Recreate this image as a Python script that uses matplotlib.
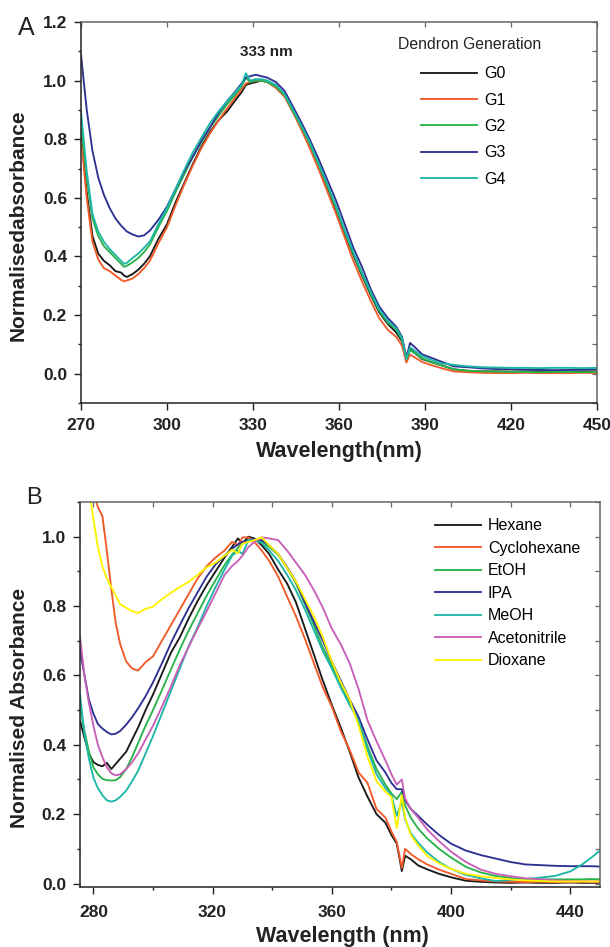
import matplotlib
matplotlib.use("Agg")
import matplotlib.pyplot as plt
from matplotlib.ticker import MultipleLocator

plt.rcParams['font.family'] = ['Liberation Sans', 'DejaVu Sans']

# ---------------- Panel A data ----------------
wl_A = [270, 272, 274, 276, 278, 280, 282, 284, 285, 286, 288, 290, 292, 294, 297, 300,
        303, 306, 309, 312, 315, 318, 321, 324, 326, 327.5, 329, 331, 333, 335, 338, 341,
        344, 347, 350, 353, 356, 359, 362, 365, 368, 371, 374, 377, 380, 382, 383.5, 384.8,
        386.5, 389, 392, 396, 400, 405, 410, 415, 420, 425, 430, 435, 440, 445, 450]

G0 = [0.83, 0.62, 0.47, 0.41, 0.385, 0.37, 0.35, 0.345, 0.335, 0.33, 0.34, 0.355, 0.375, 0.40, 0.46, 0.51,
      0.585, 0.65, 0.715, 0.775, 0.825, 0.865, 0.895, 0.935, 0.96, 0.985, 0.99, 0.995, 1.0, 0.995, 0.98, 0.95,
      0.895, 0.84, 0.78, 0.71, 0.635, 0.56, 0.48, 0.405, 0.335, 0.27, 0.21, 0.17, 0.14, 0.11, 0.05, 0.085,
      0.07, 0.05, 0.04, 0.028, 0.015, 0.01, 0.008, 0.008, 0.007, 0.008, 0.008, 0.007, 0.008, 0.008, 0.008]
G1 = [0.81, 0.60, 0.45, 0.39, 0.36, 0.35, 0.335, 0.32, 0.315, 0.318, 0.325, 0.34, 0.36, 0.385, 0.445, 0.50,
      0.575, 0.645, 0.71, 0.77, 0.82, 0.865, 0.905, 0.945, 0.97, 0.99, 0.995, 1.0, 1.0, 0.995, 0.975, 0.945,
      0.89, 0.83, 0.765, 0.695, 0.62, 0.545, 0.465, 0.385, 0.315, 0.25, 0.19, 0.15, 0.125, 0.095, 0.038, 0.065,
      0.055, 0.04, 0.03, 0.018, 0.008, 0.005, 0.003, 0.002, 0.002, 0.003, 0.002, 0.002, 0.002, 0.003, 0.002]
G2 = [0.855, 0.67, 0.53, 0.47, 0.435, 0.415, 0.395, 0.375, 0.365, 0.368, 0.38, 0.395, 0.415, 0.44, 0.50, 0.555,
      0.62, 0.68, 0.74, 0.79, 0.84, 0.88, 0.92, 0.955, 0.98, 1.01, 0.995, 1.0, 1.0, 0.995, 0.98, 0.95,
      0.895, 0.84, 0.78, 0.71, 0.64, 0.565, 0.485, 0.41, 0.34, 0.275, 0.215, 0.175, 0.15, 0.115, 0.05, 0.08,
      0.07, 0.052, 0.04, 0.028, 0.015, 0.01, 0.008, 0.007, 0.006, 0.006, 0.005, 0.006, 0.006, 0.005, 0.006]
G3 = [1.088, 0.90, 0.76, 0.67, 0.61, 0.565, 0.53, 0.505, 0.495, 0.485, 0.475, 0.468, 0.472, 0.488, 0.525, 0.57,
      0.63, 0.69, 0.74, 0.795, 0.84, 0.89, 0.93, 0.965, 0.99, 1.01, 1.015, 1.02, 1.015, 1.01, 0.995, 0.965,
      0.91, 0.855, 0.795, 0.73, 0.66, 0.59, 0.51, 0.43, 0.365, 0.29, 0.23, 0.19, 0.16, 0.125, 0.055, 0.105,
      0.09, 0.066, 0.055, 0.04, 0.025, 0.022, 0.018, 0.016, 0.015, 0.014, 0.013, 0.012, 0.013, 0.014, 0.015]
G4 = [0.895, 0.69, 0.545, 0.485, 0.45, 0.425, 0.405, 0.385, 0.375, 0.378, 0.395, 0.41, 0.43, 0.45, 0.51, 0.565,
      0.63, 0.695, 0.755, 0.805, 0.855, 0.895, 0.93, 0.962, 0.985, 1.025, 1.0, 1.005, 1.005, 1.0, 0.985, 0.955,
      0.90, 0.845, 0.785, 0.715, 0.645, 0.57, 0.49, 0.415, 0.345, 0.28, 0.22, 0.18, 0.155, 0.12, 0.05, 0.09,
      0.078, 0.06, 0.048, 0.035, 0.03, 0.025, 0.022, 0.021, 0.02, 0.02, 0.019, 0.02, 0.02, 0.019, 0.02]

labels_A = ['G0', 'G1', 'G2', 'G3', 'G4']
colors_A = ['#1a1a1a', '#f15a29', '#2bb34b', '#2e3192', '#1db5a6']

# ---------------- Panel B data ----------------
wl_B = [275.5, 277, 278.5, 280, 281.5, 283, 284.5, 286, 287.5, 289, 291, 293, 295, 297.5, 300, 303,
        306, 309, 312, 315, 318, 321, 324, 326.5, 328.5, 330, 332, 334, 336.5, 339, 342, 345,
        348, 351, 354, 357, 360, 363, 366, 369, 372, 375, 378, 380, 381.8, 383.5, 384.6, 386.5,
        389, 392, 396, 400, 405, 410, 415, 420, 425, 430, 435, 440, 444, 447, 450]

hexane = [0.47, 0.42, 0.375, 0.35, 0.342, 0.338, 0.348, 0.33, 0.345, 0.36, 0.38, 0.415, 0.45, 0.50, 0.545, 0.605,
          0.665, 0.71, 0.765, 0.815, 0.86, 0.90, 0.94, 0.97, 0.995, 0.98, 1.0, 0.995, 0.975, 0.95, 0.905, 0.865,
          0.81, 0.735, 0.66, 0.585, 0.515, 0.45, 0.38, 0.305, 0.25, 0.20, 0.175, 0.14, 0.115, 0.036, 0.08, 0.07,
          0.052, 0.041, 0.028, 0.018, 0.008, 0.005, 0.003, 0.002, 0.003, 0.002, 0.002, 0.003, 0.002, 0.002, 0.002]
cyclohexane = [1.5, 1.35, 1.22, 1.13, 1.085, 1.06, 0.96, 0.85, 0.75, 0.69, 0.64, 0.62, 0.614, 0.638, 0.655, 0.70,
               0.745, 0.79, 0.835, 0.88, 0.915, 0.94, 0.96, 0.985, 0.975, 0.998, 0.998, 0.985, 0.96, 0.93, 0.885, 0.827,
               0.77, 0.705, 0.635, 0.565, 0.51, 0.44, 0.385, 0.32, 0.29, 0.215, 0.19, 0.15, 0.12, 0.045, 0.10, 0.085,
               0.07, 0.055, 0.04, 0.028, 0.013, 0.009, 0.006, 0.005, 0.004, 0.005, 0.004, 0.004, 0.005, 0.004, 0.004]
etoh = [0.51, 0.44, 0.38, 0.335, 0.315, 0.302, 0.298, 0.297, 0.298, 0.307, 0.33, 0.365, 0.405, 0.455, 0.50, 0.558,
        0.617, 0.675, 0.73, 0.78, 0.83, 0.875, 0.918, 0.948, 0.968, 0.98, 0.99, 0.99, 0.985, 0.97, 0.948, 0.91,
        0.865, 0.805, 0.745, 0.68, 0.63, 0.575, 0.52, 0.47, 0.395, 0.33, 0.285, 0.26, 0.243, 0.265, 0.225, 0.19,
        0.158, 0.13, 0.10, 0.075, 0.048, 0.032, 0.022, 0.016, 0.013, 0.012, 0.012, 0.012, 0.012, 0.013, 0.012]
ipa = [0.674, 0.60, 0.53, 0.49, 0.46, 0.447, 0.437, 0.43, 0.432, 0.44, 0.458, 0.48, 0.505, 0.54, 0.58, 0.635,
       0.693, 0.745, 0.795, 0.84, 0.885, 0.92, 0.945, 0.965, 0.978, 0.985, 0.99, 0.993, 0.99, 0.975, 0.95, 0.912,
       0.87, 0.81, 0.755, 0.70, 0.64, 0.585, 0.53, 0.48, 0.415, 0.355, 0.32, 0.29, 0.272, 0.272, 0.24, 0.215,
       0.195, 0.17, 0.14, 0.115, 0.095, 0.082, 0.072, 0.062, 0.055, 0.053, 0.051, 0.05, 0.05, 0.05, 0.049]
meoh = [0.545, 0.43, 0.36, 0.305, 0.275, 0.255, 0.24, 0.236, 0.24, 0.25, 0.268, 0.295, 0.325, 0.375, 0.425, 0.49,
        0.555, 0.62, 0.685, 0.74, 0.80, 0.855, 0.905, 0.945, 0.96, 0.95, 0.99, 0.99, 0.982, 0.96, 0.93, 0.89,
        0.845, 0.79, 0.73, 0.67, 0.62, 0.565, 0.515, 0.47, 0.385, 0.315, 0.275, 0.255, 0.195, 0.235, 0.185, 0.145,
        0.117, 0.09, 0.062, 0.042, 0.025, 0.015, 0.007, 0.01, 0.013, 0.017, 0.022, 0.035, 0.055, 0.074, 0.095]
acetonitrile = [0.712, 0.60, 0.52, 0.455, 0.40, 0.365, 0.335, 0.318, 0.312, 0.315, 0.33, 0.35, 0.375, 0.415, 0.455, 0.51,
                0.568, 0.63, 0.683, 0.735, 0.785, 0.837, 0.89, 0.915, 0.93, 0.945, 0.97, 0.985, 0.998, 0.995, 0.99, 0.96,
                0.925, 0.89, 0.846, 0.795, 0.735, 0.69, 0.635, 0.56, 0.47, 0.41, 0.355, 0.315, 0.285, 0.30, 0.245, 0.215,
                0.19, 0.156, 0.122, 0.092, 0.062, 0.04, 0.028, 0.021, 0.015, 0.012, 0.009, 0.007, 0.007, 0.006, 0.007]
dioxane = [1.4, 1.25, 1.14, 1.05, 0.97, 0.915, 0.88, 0.855, 0.83, 0.805, 0.795, 0.785, 0.78, 0.792, 0.798, 0.82,
           0.838, 0.855, 0.87, 0.89, 0.912, 0.925, 0.945, 0.962, 0.952, 0.98, 0.985, 0.99, 0.998, 0.975, 0.95, 0.91,
           0.87, 0.82, 0.77, 0.71, 0.64, 0.58, 0.53, 0.455, 0.365, 0.295, 0.265, 0.25, 0.16, 0.255, 0.19, 0.14,
           0.11, 0.08, 0.058, 0.042, 0.028, 0.021, 0.016, 0.012, 0.009, 0.007, 0.006, 0.006, 0.006, 0.006, 0.006]

labels_B = ['Hexane', 'Cyclohexane', 'EtOH', 'IPA', 'MeOH', 'Acetonitrile', 'Dioxane']
colors_B = ['#1a1a1a', '#f15a29', '#2bb34b', '#2e3192', '#1db5a6', '#c85fb8', '#fff200']

x_ticks_A = [270, 300, 330, 360, 390, 420, 450]
y_ticks_A = [0.0, 0.2, 0.4, 0.6, 0.8, 1.0, 1.2]
x_ticks_B = [280, 320, 360, 400, 440]
y_ticks_B = [0.0, 0.2, 0.4, 0.6, 0.8, 1.0]

# ---------------- Figure ----------------
fig = plt.figure(figsize=(6.10, 9.47), dpi=100)
W, H = 610, 947
axA = fig.add_axes([81 / W, 1 - 403 / H, 516 / W, 381 / H])
axB = fig.add_axes([80 / W, 1 - 887 / H, 520 / W, 385 / H])

LW = 1.35


def style(ax, xminor, yminor, mlen, mnlen, xpad):
    for s in ['left', 'bottom']:
        ax.spines[s].set_color('#222222')
        ax.spines[s].set_linewidth(1.1)
    for s in ['top', 'right']:
        ax.spines[s].set_color('#666666')
        ax.spines[s].set_linewidth(1.1)
    ax.tick_params(which='major', direction='out', length=mlen, width=1.0,
                   labelsize=12.5, pad=5, color='#222222')
    ax.tick_params(axis='x', which='major', pad=xpad)
    ax.tick_params(which='minor', direction='out', length=mnlen, width=1.0, color='#222222')
    for lab in ax.get_xticklabels() + ax.get_yticklabels():
        lab.set_fontweight('bold')
        lab.set_color('#222222')
    if xminor:
        ax.xaxis.set_minor_locator(MultipleLocator(xminor))
    if yminor:
        ax.yaxis.set_minor_locator(MultipleLocator(yminor))
    # inward ticks on top / right
    top = ax.secondary_xaxis('top')
    top.set_xticks(ax.get_xticks())
    top.tick_params(direction='in', length=3.5, width=0.9, labeltop=False, color='#666666')
    if xminor:
        top.xaxis.set_minor_locator(MultipleLocator(xminor))
        top.tick_params(which='minor', direction='in', length=3.5, width=0.9, color='#666666')
    top.spines['top'].set_visible(False)
    right = ax.secondary_yaxis('right')
    right.yaxis.set_major_locator(MultipleLocator(yminor if yminor else 0.2))
    right.tick_params(direction='in', length=3.5, width=0.9, labelright=False, color='#666666')
    right.spines['right'].set_visible(False)


# Panel A
for ys, lab, c in zip([G0, G1, G2, G3, G4], labels_A, colors_A):
    axA.plot(wl_A, ys, color=c, lw=LW, label=lab)
axA.set_xlim(270, 450)
axA.set_ylim(-0.1, 1.2)
axA.set_xticks(x_ticks_A)
axA.set_yticks(y_ticks_A)
axA.set_yticklabels([f'{v:.1f}' for v in y_ticks_A])
style(axA, None, 0.1, 5, 2.5, 6)
axA.set_xlabel('Wavelength(nm)', fontsize=15.5, fontweight='bold', color='#222222')
axA.set_ylabel('Normalisedabsorbance', fontsize=15, fontweight='bold', color='#222222')
axA.xaxis.set_label_coords(0.5, -0.10)
axA.yaxis.set_label_coords(-0.103, 0.467)
axA.text(334.5, 1.098, '333 nm', ha='center', va='center', fontsize=11, fontweight='bold', color='#222222')
axA.text(0.614, 0.94, 'Dendron Generation', transform=axA.transAxes, ha='left', va='center',
         fontsize=11.3, color='#222222')
axA.legend(loc='upper left', bbox_to_anchor=(0.659, 0.884), frameon=False, borderpad=0,
           borderaxespad=0, handlelength=3.5, handletextpad=0.45, labelspacing=0.71, fontsize=11.5)
fig.text(18 / W, 1 - 28 / H, 'A', fontsize=18, ha='left', va='center', color='#222222')

# Panel B
for ys, lab, c in zip([hexane, cyclohexane, etoh, ipa, meoh, acetonitrile, dioxane], labels_B, colors_B):
    axB.plot(wl_B, ys, color=c, lw=LW, label=lab)
axB.set_xlim(275.5, 450)
axB.set_ylim(-0.01, 1.1)
axB.set_xticks(x_ticks_B)
axB.set_yticks(y_ticks_B)
axB.set_yticklabels([f'{v:.1f}' for v in y_ticks_B])
style(axB, 20, 0.1, 5, 2.5, 8)
axB.set_xlabel('Wavelength (nm)', fontsize=15.5, fontweight='bold', color='#222222')
axB.set_ylabel('Normalised Absorbance', fontsize=15, fontweight='bold', color='#222222')
axB.xaxis.set_label_coords(0.504, -0.101)
axB.yaxis.set_label_coords(-0.098, 0.465)
axB.legend(loc='upper left', bbox_to_anchor=(0.683, 0.958), frameon=False, borderpad=0,
           borderaxespad=0, handlelength=2.9, handletextpad=0.4, labelspacing=0.47, fontsize=11.5)
fig.text(26 / W, 1 - 498 / H, 'B', fontsize=17, ha='left', va='center', color='#222222')

fig.savefig('out.png', dpi=100)
